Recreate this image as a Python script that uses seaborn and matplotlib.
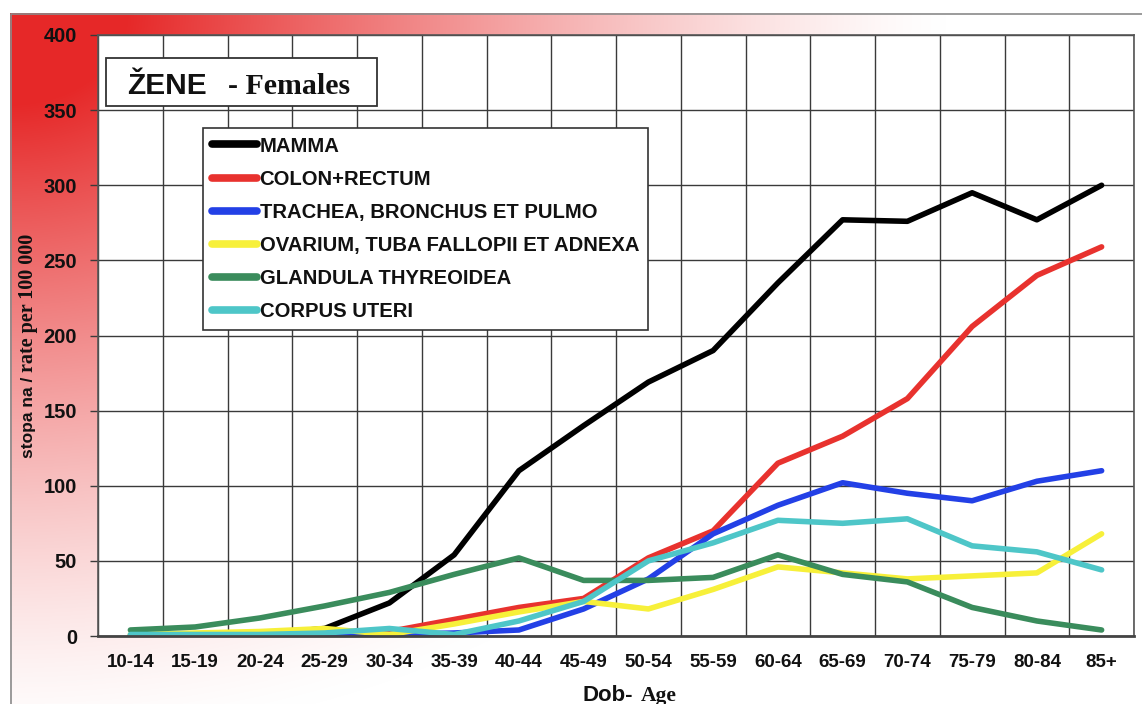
import numpy as np
import pandas as pd
import matplotlib
matplotlib.use("Agg")
import matplotlib.pyplot as plt
import seaborn as sns
from matplotlib.patches import Rectangle
from matplotlib.lines import Line2D

ages = ["10-14", "15-19", "20-24", "25-29", "30-34", "35-39", "40-44", "45-49",
        "50-54", "55-59", "60-64", "65-69", "70-74", "75-79", "80-84", "85+"]

mamma = [0, 0, 1, 5, 22, 54, 110, 140, 169, 190, 235, 277, 276, 295, 277, 300]
colon = [0, 0, 0, 1, 3, 11, 19, 25, 52, 70, 115, 133, 158, 206, 240, 259]
trachea = [0, 0, 0, 0, 1, 2, 4, 18, 38, 68, 87, 102, 95, 90, 103, 110]
ovarium = [1, 2, 3, 5, 1, 8, 16, 23, 18, 31, 46, 42, 38, 40, 42, 68]
thyreoidea = [4, 6, 12, 20, 29, 41, 52, 37, 37, 39, 54, 41, 36, 19, 10, 4]
corpus = [1, 1, 1, 2, 5, 1, 10, 23, 50, 62, 77, 75, 78, 60, 56, 44]

sites = ["MAMMA", "COLON+RECTUM", "TRACHEA, BRONCHUS ET PULMO",
         "OVARIUM, TUBA FALLOPII ET ADNEXA", "GLANDULA THYREOIDEA", "CORPUS UTERI"]
colors = ["#000000", "#e8322e", "#2340e6", "#f7f03a", "#3a8c5c", "#4ec6c8"]

df = pd.DataFrame({
    "age": ages * 6,
    "rate": mamma + colon + trachea + ovarium + thyreoidea + corpus,
    "site": np.repeat(sites, len(ages)),
})

sns.set_theme(style="white")
plt.rcParams["font.family"] = ["Liberation Sans", "DejaVu Sans"]
plt.rcParams["font.weight"] = "bold"

W, H = 1142, 704
fig = plt.figure(figsize=(W / 100, H / 100), dpi=100)

# red corner gradient behind everything
bg = fig.add_axes([0, 0, 1, 1], zorder=-10)
yy, xx = np.mgrid[0:H, 0:W]
r = np.hypot((xx - 10) * 0.78, (yy - 13) * 1.0)
a = np.clip(1 - (r - 90) / 640, 0, 1) ** 1.35
red = np.array([230, 40, 40]) / 255
img = 1 - a[..., None] * (1 - red)
img[:13, :] = 1
img[:, :10] = 1
bg.imshow(img, extent=[0, W, H, 0], aspect="auto", interpolation="bilinear")
bg.set_xlim(0, W)
bg.set_ylim(H, 0)
bg.axis("off")
bg.plot([10.5, 10.5, W], [H, 13.5, 13.5], color="#8a8a8a", lw=1.2)

# main chart
ax = fig.add_axes([98 / W, 1 - 636 / H, (1134 - 98) / W, (636 - 35) / H])
ax.set_facecolor("white")
sns.lineplot(data=df, x="age", y="rate", hue="site", hue_order=sites,
             palette=colors, linewidth=4, sort=False, legend=False, ax=ax)

ax.set_xlim(-0.5, len(ages) - 0.5)
ax.set_ylim(0, 400)
ax.set_yticks(range(0, 401, 50))
ax.set_xticks(range(len(ages)))
ax.set_xticklabels(ages)
ax.set_xticks(np.arange(-0.5, len(ages), 1), minor=True)
ax.set_xlabel("")
ax.set_ylabel("")
ax.set_axisbelow(True)
ax.grid(axis="y", which="major", color="#3a3a3a", lw=1.0)
ax.grid(axis="x", which="minor", color="#3a3a3a", lw=1.0)
ax.grid(axis="x", which="major", visible=False)
ax.tick_params(axis="x", which="major", length=0, pad=13, labelsize=13.5, labelcolor="#111111")
ax.tick_params(axis="x", which="minor", length=7, width=1, color="#3a3a3a", direction="out")
ax.tick_params(axis="y", length=6, width=1, color="#3a3a3a", pad=9, labelsize=14.5,
               labelcolor="#111111", left=True, direction="out")
for lab in ax.get_xticklabels() + ax.get_yticklabels():
    lab.set_fontweight("bold")
for s in ["top", "right", "left"]:
    ax.spines[s].set_color("#555555")
    ax.spines[s].set_linewidth(1.2)
ax.spines["bottom"].set_color("#444444")
ax.spines["bottom"].set_linewidth(2)

handles = [Line2D([], [], color=c, lw=5.5) for c in colors]
leg = ax.legend(handles, sites, loc="upper left",
                bbox_to_anchor=(203 / W, 1 - 128 / H), bbox_transform=fig.transFigure,
                frameon=True, fancybox=False, framealpha=1, edgecolor="#333333",
                handlelength=2.25, handletextpad=0.12, labelspacing=0.7,
                borderpad=0.42, borderaxespad=0,
                prop={"weight": "bold", "size": 14.6, "family": "Liberation Sans"})
leg.get_frame().set_linewidth(1.2)
for t in leg.get_texts():
    t.set_color("#111111")

# overlay for title box and axis labels, in pixel coordinates
ov = fig.add_axes([0, 0, 1, 1], zorder=10)
ov.set_xlim(0, W)
ov.set_ylim(H, 0)
ov.axis("off")
ov.patch.set_alpha(0)
ov.add_patch(Rectangle((106, 58), 271, 48, facecolor="white", edgecolor="#333333", lw=1.3))
ov.text(127, 94, "ŽENE", fontsize=21.5, fontweight="bold", family="Liberation Sans",
        color="#111111", va="baseline")
ov.text(228, 94, "- Females", fontsize=21.5, fontweight="bold", family="Liberation Serif",
        color="#111111", va="baseline")

ov.text(28, 458, "stopa na /", rotation=90, fontsize=12.5, fontweight="bold",
        family="Liberation Sans", color="#111111", ha="center", va="bottom")
ov.text(28, 372, "rate per 100 000", rotation=90, fontsize=14.5, fontweight="bold",
        family="Liberation Serif", color="#111111", ha="center", va="bottom")

ov.text(582, 701, "Dob-", fontsize=16, fontweight="bold", family="Liberation Sans",
        color="#111111", va="baseline")
ov.text(641, 701, "Age", fontsize=15.5, fontweight="bold", family="Liberation Serif",
        color="#111111", va="baseline")

fig.savefig("out.png", dpi=100)
